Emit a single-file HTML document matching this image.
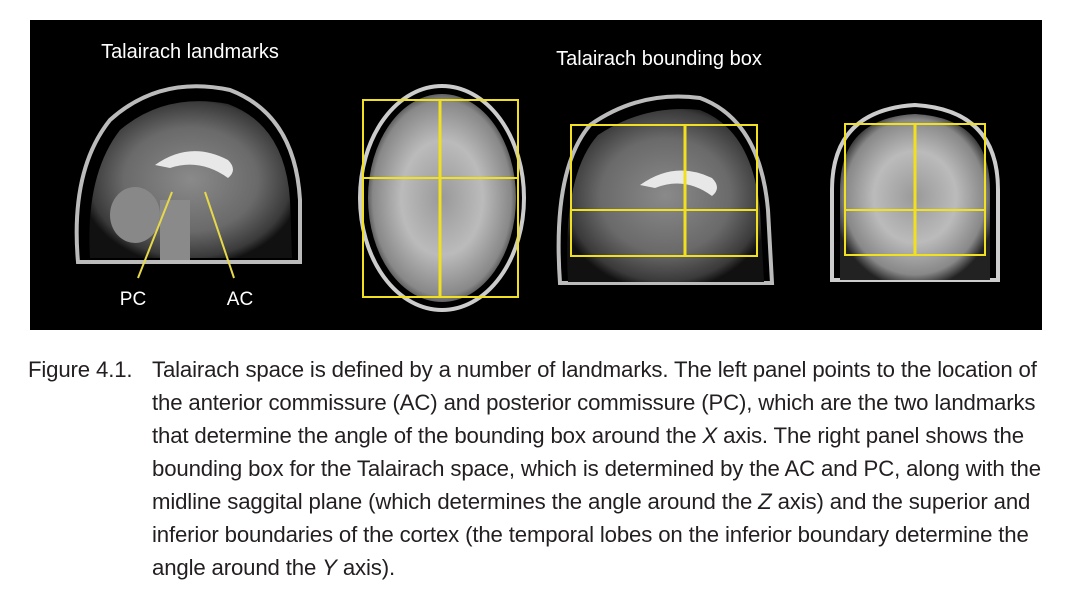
<!DOCTYPE html>
<html><head><meta charset="utf-8"><style>
body{margin:0;background:#fff;width:1080px;height:602px;overflow:hidden;position:relative;font-family:"Liberation Sans",sans-serif}
.cap{position:absolute;font-size:22.2px;color:#231f20;line-height:33px;letter-spacing:-0.15px;white-space:nowrap}
</style></head><body>
<svg width="1080" height="340" style="position:absolute;left:0;top:0">
<defs>
<radialGradient id="g1" cx="50%" cy="50%" r="55%"><stop offset="0" stop-color="#8a8a8a"/><stop offset="0.6" stop-color="#6a6a6a"/><stop offset="0.9" stop-color="#3a3a3a"/><stop offset="1" stop-color="#111"/></radialGradient>
<radialGradient id="g2" cx="50%" cy="50%" r="55%"><stop offset="0" stop-color="#999"/><stop offset="0.5" stop-color="#bbb"/><stop offset="0.85" stop-color="#888"/><stop offset="1" stop-color="#222"/></radialGradient>
</defs>
<rect x="30" y="20" width="1012" height="310" fill="#000"/>
<text x="190" y="58" fill="#fff" font-size="20" text-anchor="middle">Talairach landmarks</text>
<text x="659" y="65" fill="#fff" font-size="20" text-anchor="middle">Talairach bounding box</text>
<g>
<path d="M78 262 Q70 170 110 120 Q160 75 230 90 Q295 115 300 200 L300 262 Z" fill="none" stroke="#bbb" stroke-width="4"/>
<path d="M90 258 Q85 175 120 130 Q165 92 228 104 Q285 125 290 200 L292 258 Z" fill="url(#g1)"/>
<path d="M155 165 Q190 140 228 160 Q238 170 228 178 Q200 158 170 168 Z" fill="#e8e8e8"/>
<ellipse cx="135" cy="215" rx="25" ry="28" fill="#888"/>
<rect x="160" y="200" width="30" height="60" fill="#8a8a8a"/>
<line x1="138" y1="278" x2="172" y2="192" stroke="#e6d84a" stroke-width="2"/>
<line x1="234" y1="278" x2="205" y2="192" stroke="#e6d84a" stroke-width="2"/>
</g>
<text x="133" y="305" fill="#fff" font-size="19" text-anchor="middle">PC</text>
<text x="240" y="305" fill="#fff" font-size="19" text-anchor="middle">AC</text>
<g>
<ellipse cx="442" cy="198" rx="82" ry="112" fill="none" stroke="#ccc" stroke-width="4"/>
<ellipse cx="442" cy="198" rx="74" ry="104" fill="url(#g2)"/>
<rect x="363" y="100" width="155" height="197" fill="none" stroke="#f0e020" stroke-width="2"/>
<line x1="440" y1="100" x2="440" y2="297" stroke="#f0e020" stroke-width="3"/>
<line x1="363" y1="178" x2="518" y2="178" stroke="#f0e020" stroke-width="2"/>
</g>
<g>
<path d="M560 283 Q552 170 590 125 Q640 90 700 98 Q760 120 768 210 L772 283 Z" fill="none" stroke="#bbb" stroke-width="4"/>
<path d="M568 282 Q562 175 598 135 Q645 104 700 110 Q752 130 760 210 L764 282 Z" fill="url(#g1)"/>
<path d="M640 185 Q675 160 712 178 Q722 188 712 196 Q685 176 655 188 Z" fill="#e8e8e8"/>
<rect x="571" y="125" width="186" height="131" fill="none" stroke="#f0e020" stroke-width="2"/>
<line x1="685" y1="125" x2="685" y2="256" stroke="#f0e020" stroke-width="3"/>
<line x1="571" y1="210" x2="757" y2="210" stroke="#f0e020" stroke-width="2"/>
</g>
<g>
<path d="M832 280 L832 190 Q832 110 915 105 Q998 110 998 190 L998 280 Z" fill="none" stroke="#ccc" stroke-width="4"/>
<path d="M840 280 L840 190 Q840 118 915 114 Q990 118 990 190 L990 280 Z" fill="url(#g2)"/>
<rect x="845" y="124" width="140" height="131" fill="none" stroke="#f0e020" stroke-width="2"/>
<line x1="915" y1="124" x2="915" y2="255" stroke="#f0e020" stroke-width="3"/>
<line x1="845" y1="210" x2="985" y2="210" stroke="#f0e020" stroke-width="2"/>
</g>
</svg>
<div class="cap" style="left:28px;top:353px">Figure 4.1.</div>
<div class="cap" style="left:152px;top:353px;width:900px">Talairach space is defined by a number of landmarks. The left panel points to the location of<br>the anterior commissure (AC) and posterior commissure (PC), which are the two landmarks<br>that determine the angle of the bounding box around the <i>X</i> axis. The right panel shows the<br>bounding box for the Talairach space, which is determined by the AC and PC, along with the<br>midline saggital plane (which determines the angle around the <i>Z</i> axis) and the superior and<br>inferior boundaries of the cortex (the temporal lobes on the inferior boundary determine the<br>angle around the <i>Y</i> axis).</div>
</body></html>
